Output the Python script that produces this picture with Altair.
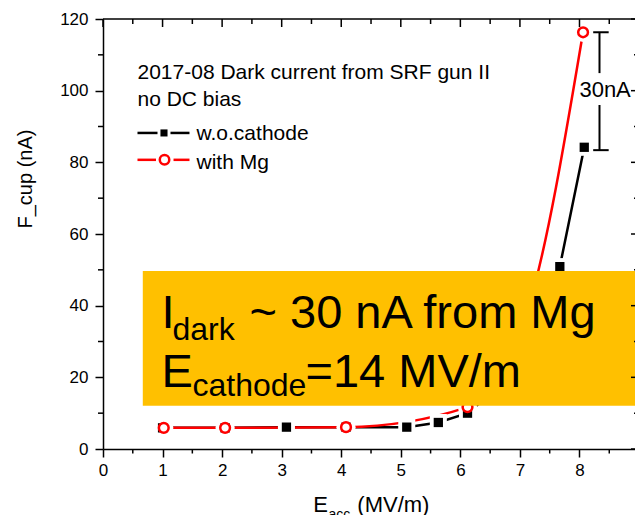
import altair as alt
import pandas as pd

# ---------------- data ----------------
e_wo = [1.0, 2.05, 3.08, 4.08, 5.10, 5.63, 6.12, 6.62, 7.15, 7.67, 8.08]
i_wo = [5.9, 5.9, 6.1, 6.1, 6.1, 7.4, 10.0, 17.0, 30.0, 50.9, 84.2]
e_mg = [1.02, 2.05, 4.08, 6.12, 6.62, 7.15, 8.06]
i_mg = [5.9, 5.9, 6.1, 11.7, 21.0, 40.0, 116.3]

x_major = [0, 1, 2, 3, 4, 5, 6, 7, 8, 9]
x_minor = [0.5, 1.5, 2.5, 3.5, 4.5, 5.5, 6.5, 7.5, 8.5]
y_major = [0, 20, 40, 60, 80, 100, 120]
y_minor = [10, 30, 50, 70, 90, 110]

series_names = ["w.o.cathode", "with Mg"]
legend_title = ["2017-08 Dark current from SRF gun II", "no DC bias"]
gap_label = "30nA"

# ---------------- setup ----------------
FONT = "Liberation Sans"
W, H = 532, 430
XMAX = 8.932
XS = alt.Scale(domain=[0, XMAX], nice=False, zero=False)
YS = alt.Scale(domain=[0, 120], nice=False, zero=False)
one = pd.DataFrame({"k": [0]})

df_wo = pd.DataFrame({"x": e_wo, "y": i_wo})
df_mg = pd.DataFrame({"x": e_mg, "y": i_mg})

x_axis = alt.Axis(values=x_major, title=None, tickSize=8, tickWidth=1.5,
                  domainWidth=1.5, labelFontSize=17, labelPadding=5,
                  labelFlush=False, labelOverlap=False, grid=False)
y_axis = alt.Axis(values=y_major, title=None, tickSize=8, tickWidth=1.5,
                  domainWidth=1.5, labelFontSize=17, labelPadding=7,
                  labelFlush=False, labelOverlap=False, grid=False)


def X(f):
    return alt.X(f, type="quantitative", scale=XS, axis=x_axis, title=None)


def Y(f):
    return alt.Y(f, type="quantitative", scale=YS, axis=y_axis, title=None)


def xd(v):
    return alt.XDatum(v, type="quantitative", scale=XS, axis=x_axis, title=None)


def yd(v):
    return alt.YDatum(v, type="quantitative", scale=YS, axis=y_axis, title=None)


def text(s, x, y, size, align="left"):
    return alt.Chart(one).mark_text(
        text=s, font=FONT, fontSize=size, align=align,
        baseline="alphabetic", color="black"
    ).encode(x=xd(x), y=yd(y))


def hseg(x1, x2, y, color, width=2.5):
    return alt.Chart(one).mark_rule(color=color, strokeWidth=width).encode(
        x=xd(x1), x2=alt.X2Datum(x2), y=yd(y))


def vseg(x, y1, y2, color="black", width=2):
    return alt.Chart(one).mark_rule(color=color, strokeWidth=width).encode(
        x=xd(x), y=yd(y1), y2=alt.Y2Datum(y2))


# ---------------- series ----------------
black_line = alt.Chart(df_wo).mark_line(color="black", strokeWidth=2.5).encode(
    x=X("x"), y=Y("y"))
red_line = alt.Chart(df_mg).mark_line(color="#ff0000", strokeWidth=2.5,
                                      interpolate="monotone").encode(x=X("x"), y=Y("y"))
black_halo = alt.Chart(df_wo).mark_point(shape="square", filled=True, color="white",
                                         opacity=1, size=290).encode(x=X("x"), y=Y("y"))
red_halo = alt.Chart(df_mg).mark_point(shape="circle", filled=True, color="white",
                                       opacity=1, size=370).encode(x=X("x"), y=Y("y"))
black_pts = alt.Chart(df_wo).mark_point(shape="square", filled=True, color="black",
                                        opacity=1, size=86).encode(x=X("x"), y=Y("y"))
red_pts = alt.Chart(df_mg).mark_point(shape="circle", filled=True, fill="white",
                                      stroke="#ff0000", strokeWidth=2.5, opacity=1,
                                      size=95).encode(x=X("x"), y=Y("y"))

# ---------------- highlighted box ----------------
box = alt.Chart(one).mark_rect(color="#ffc000").encode(
    x=xd(0.668), x2=alt.X2Datum(9.0), y=yd(12.1), y2=alt.Y2Datum(49.7))
box_texts = [
    text("I", 0.982, 33.8, 47),
    text("dark", 1.167, 30.4, 32),
    text("~ 30 nA from Mg", 2.46, 33.8, 47),
    text("E", 0.982, 17.4, 47),
    text("cathode", 1.503, 14.8, 32),
    text("=14 MV/m", 3.40, 17.4, 47),
]

# ---------------- legend ----------------
legend = [
    text(legend_title[0], 0.579, 103.3, 21),
    text(legend_title[1], 0.579, 95.8, 21),
    hseg(0.579, 0.915, 88.2, "black"),
    hseg(1.133, 1.452, 88.2, "black"),
    alt.Chart(one).mark_point(shape="square", filled=True, color="black", opacity=1,
                              size=50).encode(x=xd(1.024), y=yd(88.2)),
    text(series_names[0], 1.57, 86.1, 21),
    hseg(0.579, 0.89, 80.7, "#ff0000"),
    hseg(1.184, 1.452, 80.7, "#ff0000"),
    alt.Chart(one).mark_point(shape="circle", filled=True, fill="white", stroke="#ff0000",
                              strokeWidth=2.5, opacity=1, size=90).encode(x=xd(1.033), y=yd(80.7)),
    text(series_names[1], 1.57, 78.1, 21),
]

# ---------------- 30nA bracket ----------------
bracket = [
    vseg(8.336, 116.3, 104.9),
    vseg(8.336, 96.0, 83.4),
    hseg(8.23, 8.49, 116.3, "black", 2),
    hseg(8.23, 8.49, 83.4, "black", 2),
    text(gap_label, 8.43, 98.3, 22, align="center"),
]

# ---------------- frame ticks ----------------
df_xmaj = pd.DataFrame({"v": x_major})
df_xmin = pd.DataFrame({"v": x_minor})
df_ymaj = pd.DataFrame({"v": y_major})
df_ymin = pd.DataFrame({"v": y_minor})
tk = dict(color="black", strokeWidth=1.5)
ticks = [
    alt.Chart(df_xmin).mark_rule(**tk).encode(x=X("v"), y=alt.value(H), y2=alt.value(H + 4.5)),
    alt.Chart(df_ymin).mark_rule(**tk).encode(y=Y("v"), x=alt.value(0), x2=alt.value(-5)),
    alt.Chart(df_xmaj).mark_rule(**tk).encode(x=X("v"), y=alt.value(0), y2=alt.value(8)),
    alt.Chart(df_xmin).mark_rule(**tk).encode(x=X("v"), y=alt.value(0), y2=alt.value(5)),
    alt.Chart(df_ymaj).mark_rule(**tk).encode(y=Y("v"), x=alt.value(536), x2=alt.value(528)),
    alt.Chart(df_ymin).mark_rule(**tk).encode(y=Y("v"), x=alt.value(536), x2=alt.value(531)),
    alt.Chart(one).mark_rule(**tk).encode(x=alt.value(0), x2=alt.value(W), y=alt.value(0)),
]

# ---------------- axis titles ----------------
titles = [
    alt.Chart(one).mark_text(text="F_cup (nA)", font=FONT, fontSize=20, angle=270,
                             align="center", baseline="alphabetic", color="black"
                             ).encode(x=alt.value(-71), y=alt.value(160)),
    alt.Chart(one).mark_text(text="E", font=FONT, fontSize=22, align="left",
                             baseline="alphabetic", color="black"
                             ).encode(x=xd(3.53), y=alt.value(492.5)),
    alt.Chart(one).mark_text(text="acc", font=FONT, fontSize=14, align="left",
                             baseline="alphabetic", color="black"
                             ).encode(x=xd(3.786), y=alt.value(499.5)),
    alt.Chart(one).mark_text(text="(MV/m)", font=FONT, fontSize=22, align="left",
                             baseline="alphabetic", color="black"
                             ).encode(x=xd(4.27), y=alt.value(492.5)),
]

chart = alt.layer(
    black_line, red_line, black_halo, red_halo, black_pts, red_pts,
    box, *box_texts, *legend, *bracket, *ticks, *titles
).properties(
    width=W, height=H,
    autosize=alt.AutoSizeParams(type="none"),
    padding={"left": 103, "top": 19, "right": 0, "bottom": 66},
    background="white",
).configure_view(
    stroke="transparent"
).configure_axis(
    labelFont=FONT, labelColor="black", tickColor="black", domainColor="black"
)

chart.save("out.html", embed_options={"renderer": "svg", "actions": False})
